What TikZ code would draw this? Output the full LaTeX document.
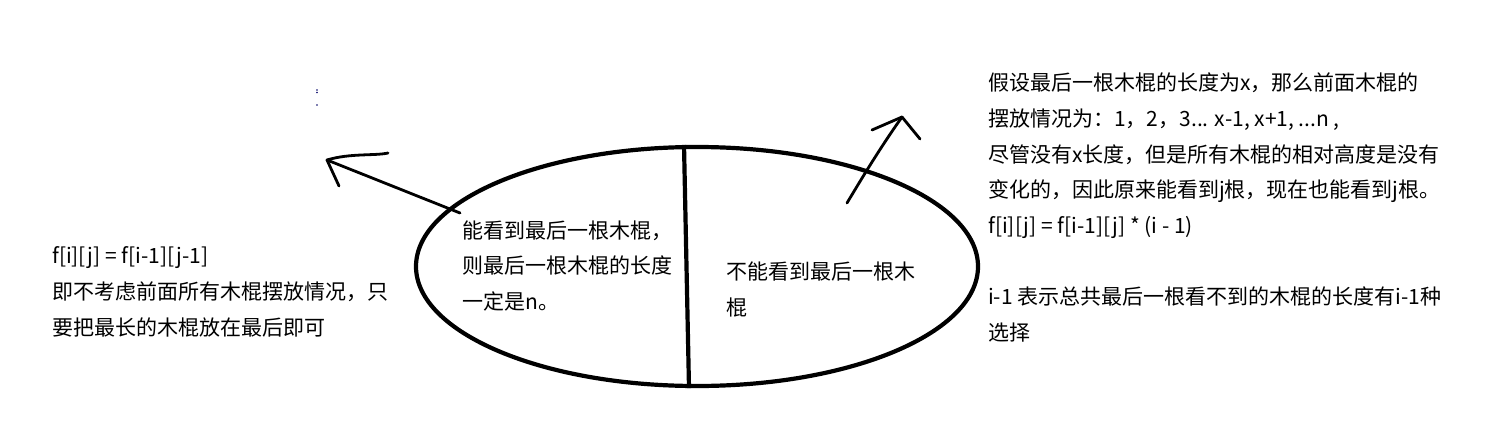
\documentclass[tikz,border=0pt]{standalone}
\usepackage{fontspec}
\newfontfamily\cjk{Noto Sans CJK SC}
\usetikzlibrary{shapes.geometric}
\tikzset{
  textblock/.style={anchor=base west, inner sep=0pt, align=left,
    font=\cjk\fontsize{21}{35.7}\selectfont},
  thickline/.style={line width=4.2pt},
  penline/.style={line width=2.8pt, line cap=round, line join=round}
}

\begin{document}
\begin{tikzpicture}[x=1pt, y=-1pt]
  \useasboundingbox (0, 0) rectangle (1495, 441);

  \node[draw, ellipse, thickline, minimum width=562pt, minimum height=239pt,
    inner sep=0pt] (oval) at (697, 266.5) {};
  \draw[thickline] ([xshift=-13pt]oval.north) -- ([xshift=-8pt]oval.south);

  % anchors sit on the last line of each text
  \node[textblock] (seen) at (462, 309.5)
    {能看到最后一根木棍，\\则最后一根木棍的长度\\一定是n。};
  \node[textblock] (unseen) at (726, 315.6) {不能看到最后一根木\\棍};
  \node[textblock] (leftnote) at (52, 335)
    {f[i][j] = f[i-1][j-1]\\即不考虑前面所有木棍摆放情况，只\\要把最长的木棍放在最后即可};
  \node[textblock] (rightnote) at (988, 340.6)
    {假设最后一根木棍的长度为x，那么前面木棍的\\
     摆放情况为：1，2，3... x-1, x+1, ...n ,\\
     尽管没有x长度，但是所有木棍的相对高度是没有\\
     变化的，因此原来能看到j根，现在也能看到j根。\\
     f[i][j] = f[i-1][j] * (i - 1)\\[35.7pt]
     i-1 表示总共最后一根看不到的木棍的长度有i-1种\\
     选择};

  % hand drawn arrows
  \coordinate (lstart) at (460, 213);
  \coordinate (ltip) at (327, 160);
  \coordinate (rstart) at (847, 203);
  \coordinate (rtip) at (902, 117);
  \draw[penline] (lstart) -- (ltip);
  \draw[penline] (ltip) .. controls (350, 153) and (375, 156) .. (388, 153);
  \draw[penline] (ltip) -- (339, 186);
  \draw[penline] (rstart) .. controls (862, 178) and (880, 148) .. (rtip);
  \draw[penline] (rtip) -- (872, 130);
  \draw[penline] (rtip) -- (920, 139);

  \fill[blue!40!black] (317, 90) circle (0.8) (317, 92.5) circle (0.8)
    (317, 105) circle (0.8);
\end{tikzpicture}
\end{document}
